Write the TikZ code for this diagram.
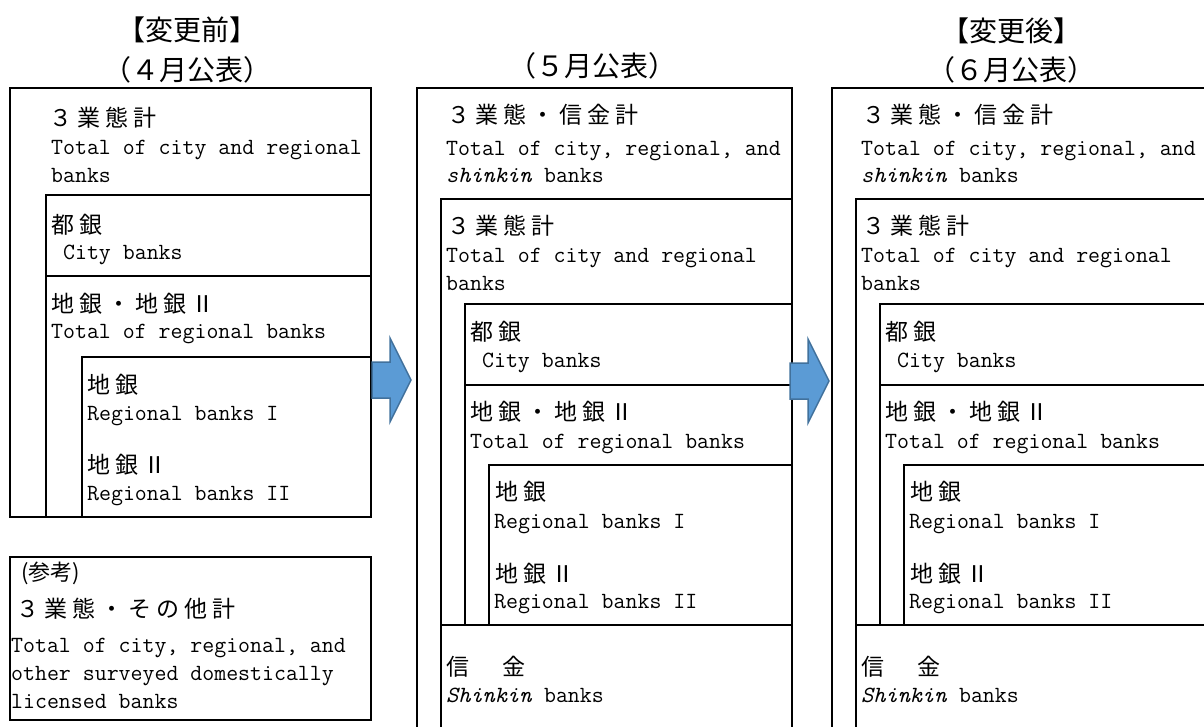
\documentclass[tikz,border=0pt]{standalone}
\usepackage{fontspec}
\newfontfamily\jpf[LetterSpace=22]{Noto Sans CJK JP}
\newfontfamily\jph{Noto Sans CJK JP}
\definecolor{arrowfill}{HTML}{5B9BD5}
\definecolor{arrowline}{HTML}{41719C}
\begin{document}
\begin{tikzpicture}[x=1pt,y=-1pt,
  box/.style={draw=black,line width=2.4pt,inner sep=0,outer sep=0,anchor=north west},
  jp/.style={font=\jpf\fontsize{23}{27}\selectfont,anchor=base west,inner sep=0},
  en/.style={font=\ttfamily\fontsize{23.2}{26}\selectfont,anchor=base west,inner sep=0},
  head/.style={font=\jph\fontsize{28}{32}\selectfont,anchor=base,inner sep=0},
  smalljp/.style={font=\jph\fontsize{22}{26}\selectfont,anchor=base west,inner sep=0},
  arrowstyle/.style={fill=arrowfill,draw=arrowline,line width=1.5pt,line join=miter},
  blockarrow/.pic={\draw[arrowstyle] (0,-18) -- (18,-18) -- (18,-42) -- (39,0) -- (18,42) -- (18,18) -- (0,18) -- cycle;}]
\useasboundingbox (0,0) rectangle (1204,726);
\clip (0,0) rectangle (1204,726);

% ---------- Panel 1 ----------
\node[box,minimum width=361pt,minimum height=429pt] (p1out) at (10,88) {};
\node[box,minimum width=325pt,minimum height=81pt] (p1city) at (46,195) {};
\node[box,minimum width=325pt,minimum height=241pt] (p1reg) at (46,276) {};
\node[box,minimum width=289pt,minimum height=160pt] (p1sub) at (82,357) {};
\node[box,minimum width=361pt,minimum height=163pt] (p1ref) at (10,557) {};

\node[head] (h1a) at (187,40) {【変更前】};
\node[head] (h1b) at (187,80) {（４月公表）};
\node[jp] (t1a) at (49,126) {３業態計};
\node[en] (e1a) at (51,154) {Total of city and regional};
\node[en] (e1b) at (51,182) {banks};
\node[jp] (t1b) at (51,233) {都銀};
\node[en] (e1c) at (51,259) {\hphantom{C}City banks};
\node[jp] (t1c) at (51,312) {地銀・地銀Ⅱ};
\node[en] (e1d) at (51,338) {Total of regional banks};
\node[jp] (t1d) at (87,393) {地銀};
\node[en] (e1e) at (87,420) {Regional banks I};
\node[jp] (t1e) at (87,473) {地銀Ⅱ};
\node[en] (e1f) at (87,500) {Regional banks II};
\node[smalljp] (t1f) at (21,580) {(参考)};
\node[jp] (t1g) at (16,617) {３業態・その他計};
\node[en] (e1g) at (11,652) {Total of city, regional, and};
\node[en] (e1h) at (11,680) {other surveyed domestically};
\node[en] (e1i) at (11,708) {licensed banks};

% ---------- Panel 2 ----------
\node[box,minimum width=375pt,minimum height=660pt] (p2out) at (417,88) {};
\node[box,minimum width=351pt,minimum height=426pt] (p2three) at (441,199) {};
\node[box,minimum width=327pt,minimum height=81pt] (p2city) at (465,304) {};
\node[box,minimum width=327pt,minimum height=240pt] (p2reg) at (465,385) {};
\node[box,minimum width=303pt,minimum height=160pt] (p2sub) at (489,465) {};
\node[box,minimum width=351pt,minimum height=123pt] (p2shin) at (441,625) {};

\node[head] (h2b) at (592,76) {（５月公表）};
\node[jp] (t2a) at (447,123) {３業態・信金計};
\node[en] (e2a) at (446,155) {Total of city, regional, and};
\node[en] (e2b) at (446,182) {\textit{shinkin} banks};
\node[jp] (t2b) at (447,234) {３業態計};
\node[en] (e2c) at (446,262) {Total of city and regional};
\node[en] (e2d) at (446,290) {banks};
\node[jp] (t2c) at (470,340) {都銀};
\node[en] (e2e) at (470,367) {\hphantom{C}City banks};
\node[jp] (t2d) at (470,420) {地銀・地銀Ⅱ};
\node[en] (e2f) at (470,448) {Total of regional banks};
\node[jp] (t2e) at (495,500) {地銀};
\node[en] (e2g) at (494,528) {Regional banks I};
\node[jp] (t2f) at (495,582) {地銀Ⅱ};
\node[en] (e2h) at (494,608) {Regional banks II};
\node[jp] (t2g) at (446,675) {信　金};
\node[en] (e2i) at (446,702) {\textit{Shinkin} banks};

% ---------- Panel 3 ----------
\node[box,minimum width=385pt,minimum height=660pt] (p3out) at (832,88) {};
\node[box,minimum width=361pt,minimum height=426pt] (p3three) at (856,199) {};
\node[box,minimum width=337pt,minimum height=81pt] (p3city) at (880,304) {};
\node[box,minimum width=337pt,minimum height=240pt] (p3reg) at (880,385) {};
\node[box,minimum width=313pt,minimum height=160pt] (p3sub) at (904,465) {};
\node[box,minimum width=361pt,minimum height=123pt] (p3shin) at (856,625) {};

\node[head] (h3a) at (1011,41) {【変更後】};
\node[head] (h3b) at (1011,80) {（６月公表）};
\node[jp] (t3a) at (862,123) {３業態・信金計};
\node[en] (e3a) at (861,155) {Total of city, regional, and};
\node[en] (e3b) at (861,182) {\textit{shinkin} banks};
\node[jp] (t3b) at (862,234) {３業態計};
\node[en] (e3c) at (861,262) {Total of city and regional};
\node[en] (e3d) at (861,290) {banks};
\node[jp] (t3c) at (885,340) {都銀};
\node[en] (e3e) at (885,367) {\hphantom{C}City banks};
\node[jp] (t3d) at (885,420) {地銀・地銀Ⅱ};
\node[en] (e3f) at (885,448) {Total of regional banks};
\node[jp] (t3e) at (910,500) {地銀};
\node[en] (e3g) at (909,528) {Regional banks I};
\node[jp] (t3f) at (910,582) {地銀Ⅱ};
\node[en] (e3h) at (909,608) {Regional banks II};
\node[jp] (t3g) at (861,675) {信　金};
\node[en] (e3i) at (861,702) {\textit{Shinkin} banks};

% ---------- Arrows ----------
\coordinate (a1) at (372,380);
\coordinate (a2) at (790,381);
\pic at (a1) {blockarrow};
\pic at (a2) {blockarrow};
\end{tikzpicture}
\end{document}
